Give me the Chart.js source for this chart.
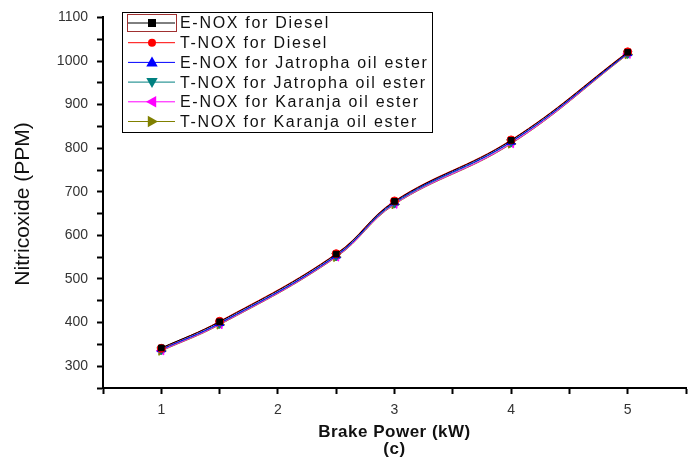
<!DOCTYPE html>
<html>
<head>
<meta charset="utf-8">
<script src="https://cdn.jsdelivr.net/npm/chart.js"></script>
<style>
  html, body { margin: 0; padding: 0; background: #fff; }
  #wrap { width: 696px; height: 466px; position: relative; }
</style>
</head>
<body>
<div id="wrap"><canvas id="c" width="696" height="466"></canvas></div>
<script>
// ---- data ----
const brakePower = [1, 1.5, 2.5, 3, 4, 5];
const eNoxDiesel   = [342, 402, 557, 678, 818, 1020];
const tNoxDiesel   = [341, 403, 558, 679, 819, 1021];
const eNoxJatropha = [339, 399, 554, 676, 815, 1018];
const tNoxJatropha = [338, 398, 553, 674, 814, 1017];
const eNoxKaranja  = [336, 396, 551, 672, 811, 1016];
const tNoxKaranja  = [335, 395, 550, 671, 810, 1015];
const seriesLabels = [
  'E-NOX for Diesel',
  'T-NOX for Diesel',
  'E-NOX for Jatropha oil ester',
  'T-NOX for Jatropha oil ester',
  'E-NOX for Karanja oil ester',
  'T-NOX for Karanja oil ester'
];
const xTitle = 'Brake Power (kW)';
const yTitle = 'Nitricoxide (PPM)';
const subTitle = '(c)';

const seriesValues = [eNoxDiesel, tNoxDiesel, eNoxJatropha, tNoxJatropha, eNoxKaranja, tNoxKaranja];
const colors = ['#000000', '#ff0000', '#0000ff', '#008080', '#ff00ff', '#808000'];
const styles = ['rect', 'circle', 'triangle', 'triangle', 'triangle', 'triangle'];
const rotations = [0, 0, 0, 180, -90, 90];
const radii = [4, 4, 5, 5, 5, 5];

const datasets = seriesValues.map((vals, i) => ({
  label: seriesLabels[i],
  data: brakePower.map((x, j) => ({ x: x, y: vals[j] })),
  borderColor: colors[i],
  backgroundColor: colors[i],
  borderWidth: 1,
  pointStyle: styles[i],
  pointRotation: rotations[i],
  pointRadius: radii[i],
  pointBorderWidth: 1,
  tension: 0.4,
  fill: false
}));

function drawMarker(ctx, style, rot, r, x, y, color) {
  ctx.save();
  ctx.fillStyle = color;
  ctx.strokeStyle = color;
  ctx.translate(x, y);
  ctx.rotate(rot * Math.PI / 180);
  ctx.beginPath();
  if (style === 'rect') {
    ctx.rect(-r, -r, 2 * r, 2 * r);
  } else if (style === 'circle') {
    ctx.arc(0, 0, r, 0, Math.PI * 2);
  } else {
    const s = r * 1.2;
    ctx.moveTo(0, -s);
    ctx.lineTo(s * 0.95, s * 0.7);
    ctx.lineTo(-s * 0.95, s * 0.7);
    ctx.closePath();
  }
  ctx.fill();
  ctx.restore();
}

const overlay = {
  id: 'overlay',
  afterDraw(chart) {
    const ctx = chart.ctx;
    const area = chart.chartArea;
    ctx.save();
    // legend box
    const lx = 122, ly = 12, lw = 310, lh = 120;
    ctx.fillStyle = '#fff';
    ctx.fillRect(lx, ly, lw, lh);
    ctx.strokeStyle = '#000';
    ctx.lineWidth = 1;
    ctx.strokeRect(lx + 0.5, ly + 0.5, lw, lh);
    ctx.font = '16px "Liberation Sans", Arial, sans-serif';
    ctx.letterSpacing = '1.7px';
    ctx.textBaseline = 'middle';
    ctx.textAlign = 'left';
    chart.data.datasets.forEach((ds, i) => {
      const y = 23 + i * 19.7;
      ctx.strokeStyle = ds.borderColor;
      ctx.lineWidth = 1;
      ctx.beginPath();
      ctx.moveTo(128, y);
      ctx.lineTo(175, y);
      ctx.stroke();
      drawMarker(ctx, ds.pointStyle, ds.pointRotation, ds.pointRadius, 152, y, ds.borderColor);
      if (i === 0) {
        ctx.strokeStyle = '#a03030';
        ctx.strokeRect(127.5, y - 8.5, 49, 17);
      }
      ctx.fillStyle = '#111';
      ctx.fillText(ds.label, 180, y + 1);
    });
    ctx.letterSpacing = '0px';
    // axis titles
    ctx.fillStyle = '#111';
    ctx.font = 'bold 17px "Liberation Sans", Arial, sans-serif';
    ctx.textAlign = 'center';
    ctx.letterSpacing = '0.5px';
    const cx = (area.left + area.right) / 2;
    ctx.fillText(xTitle, cx, 432);
    ctx.fillText(subTitle, cx, 449);
    ctx.letterSpacing = '0px';
    ctx.font = '21px "Liberation Sans", Arial, sans-serif';
    ctx.translate(23, 204);
    ctx.rotate(-Math.PI / 2);
    ctx.fillText(yTitle, 0, 0);
    ctx.restore();
  }
};

new Chart(document.getElementById('c'), {
  type: 'line',
  data: { datasets: datasets },
  options: {
    responsive: false,
    animation: false,
    devicePixelRatio: 1,
    layout: { padding: { top: 11, right: 10, left: 0, bottom: 0 } },
    plugins: { legend: { display: false }, tooltip: { enabled: false } },
    scales: {
      x: {
        type: 'linear',
        min: 0.5, max: 5.5,
        afterFit(scale) { scale.height = 78; },
        border: { display: true, color: '#000', width: 2 },
        grid: { display: true, drawOnChartArea: false, drawTicks: true, tickLength: 6, tickColor: '#000', tickWidth: 2 },
        ticks: {
          stepSize: 0.5,
          autoSkip: false,
          maxRotation: 0,
          padding: 8,
          color: '#333',
          font: { family: '"Liberation Sans", Arial, sans-serif', size: 14 },
          callback: v => (Math.abs(v - Math.round(v)) < 1e-9 ? String(Math.round(v)) : '')
        }
      },
      y: {
        type: 'linear',
        min: 250, max: 1100,
        afterFit(scale) { scale.width = 103; },
        border: { display: true, color: '#000', width: 2 },
        grid: { display: true, drawOnChartArea: false, drawTicks: true, tickLength: 6, tickColor: '#000', tickWidth: 2 },
        ticks: {
          stepSize: 50,
          autoSkip: false,
          padding: 9,
          color: '#333',
          font: { family: '"Liberation Sans", Arial, sans-serif', size: 14 },
          callback: v => (v % 100 === 0 ? String(v) : '')
        }
      }
    }
  },
  plugins: [overlay]
});
</script>
</body>
</html>
